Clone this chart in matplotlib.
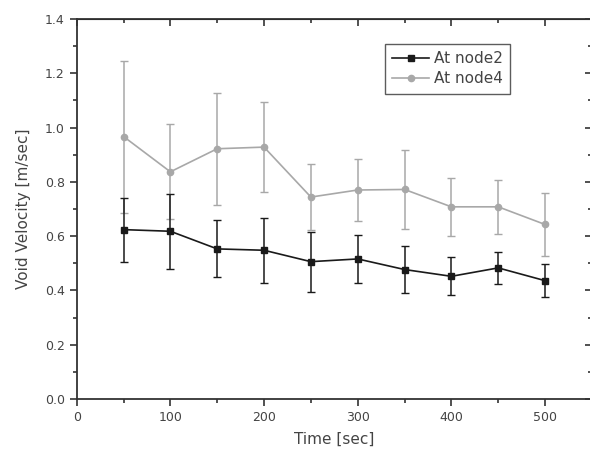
import matplotlib.pyplot as plt
from matplotlib.ticker import MultipleLocator

# data
time = [50, 100, 150, 200, 250, 300, 350, 400, 450, 500]
node2 = [0.624, 0.618, 0.553, 0.548, 0.506, 0.516, 0.477, 0.452, 0.483, 0.436]
node2_err = [0.118, 0.138, 0.105, 0.120, 0.110, 0.090, 0.085, 0.070, 0.060, 0.060]
node4 = [0.967, 0.837, 0.922, 0.928, 0.744, 0.770, 0.772, 0.708, 0.708, 0.643]
node4_err = [0.280, 0.175, 0.207, 0.167, 0.120, 0.115, 0.145, 0.108, 0.100, 0.115]

plt.rcParams['font.family'] = ['DejaVu Sans']
txt = '#444444'
tk = '#333333'

fig = plt.figure(figsize=(5.9, 4.57), dpi=100)
ax = fig.add_axes([76.7 / 590, 58 / 457, 515.2 / 590, 380 / 457])

e4 = ax.errorbar(time, node4, yerr=node4_err, color='#a8a8a8', marker='o', markersize=4.5,
                 linewidth=1.2, elinewidth=1.1, capsize=3, zorder=2)
e2 = ax.errorbar(time, node2, yerr=node2_err, color='#1a1a1a', marker='s', markersize=5,
                 linewidth=1.2, elinewidth=1.1, capsize=3, zorder=3)

ax.set_xlim(0, 550)
ax.set_ylim(0, 1.4)
ax.xaxis.set_major_locator(MultipleLocator(100))
ax.xaxis.set_minor_locator(MultipleLocator(50))
ax.yaxis.set_major_locator(MultipleLocator(0.2))
ax.yaxis.set_minor_locator(MultipleLocator(0.1))
ax.set_xticks([0, 100, 200, 300, 400, 500])
ax.set_yticks([0, 0.2, 0.4, 0.6, 0.8, 1.0, 1.2, 1.4])
ax.set_yticklabels(['0.0', '0.2', '0.4', '0.6', '0.8', '1.0', '1.2', '1.4'])

ax.tick_params(which='both', direction='out', top=False, right=False,
               labelsize=9, labelcolor=txt, color=tk, width=1.2)
ax.tick_params(which='major', length=5)
ax.tick_params(which='minor', length=3)
# mirrored ticks pointing inward on top and right
sec_x = ax.secondary_xaxis('top')
sec_x.xaxis.set_major_locator(MultipleLocator(100))
sec_x.xaxis.set_minor_locator(MultipleLocator(50))
sec_x.tick_params(which='both', direction='in', labeltop=False, color=tk, width=1.2)
sec_x.tick_params(which='major', length=5)
sec_x.tick_params(which='minor', length=3)
sec_y = ax.secondary_yaxis('right')
sec_y.yaxis.set_major_locator(MultipleLocator(0.2))
sec_y.yaxis.set_minor_locator(MultipleLocator(0.1))
sec_y.tick_params(which='both', direction='in', labelright=False, color=tk, width=1.2)
sec_y.tick_params(which='major', length=5)
sec_y.tick_params(which='minor', length=3)

for s in ax.spines.values():
    s.set_linewidth(1.3)
    s.set_color(tk)

ax.set_xlabel('Time [sec]', fontsize=11, color=txt, labelpad=6)
ax.set_ylabel('Void Velocity [m/sec]', fontsize=11, color=txt, labelpad=10)

leg = ax.legend([e2[0], e4[0]], ['At node2', 'At node4'], loc='upper left',
                bbox_to_anchor=(0.598, 0.935), fontsize=11, frameon=True, fancybox=False,
                edgecolor=tk, handlelength=2.4, borderpad=0.5, labelspacing=0.3,
                handletextpad=0.3, borderaxespad=0)
leg.get_frame().set_linewidth(1.0)
for t in leg.get_texts():
    t.set_color(txt)

fig.savefig('out.png', dpi=100)
